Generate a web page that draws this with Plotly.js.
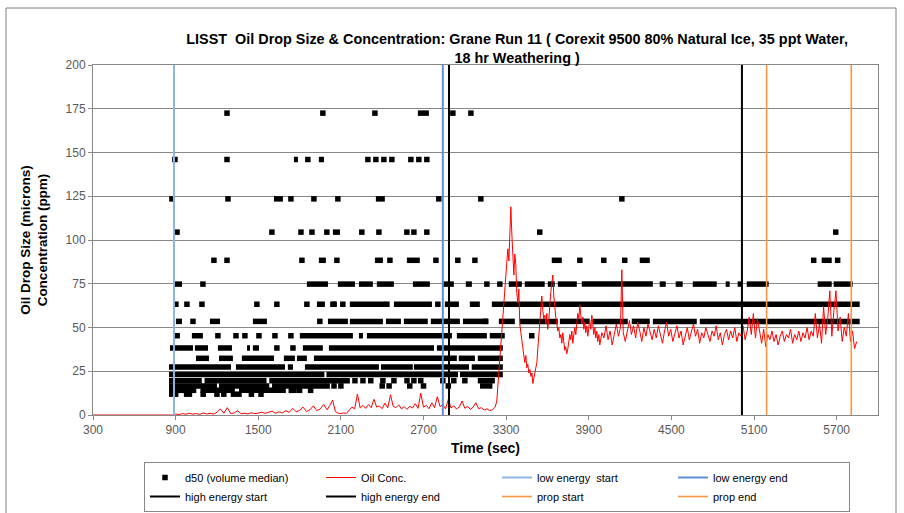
<!DOCTYPE html>
<html>
<head>
<meta charset="utf-8">
<script src="https://cdn.plot.ly/plotly-3.0.1.min.js"></script>
<style>html,body{margin:0;padding:0;background:#fff;}#chart{width:904px;height:513px;}</style>
</head>
<body>
<div id="chart"></div>
<script>
// ---------- data ----------
const xTicks = [300, 900, 1500, 2100, 2700, 3300, 3900, 4500, 5100, 5700];
const yTicks = [0, 25, 50, 75, 100, 125, 150, 175, 200];

// d50 isolated readings: [time (s), d50 (microns)]
const d50Points = [
  [1273,172.5],[1969,172.5],[2347,172.5],[2913,172.5],[3044,172.5],
  [895,146],[1273,146],[1860,146],[2296,146],[2354,146],[2412,146],[2470,146],[2608,146],[2666,146],[2724,146],
  [873,123.5],[1280,123.5],[1737,123.5],[1904,123.5],[2078,123.5],[2811,123.5],[3116,123.5],[4140,123.5],
  [910,104.5],[1599,104.5],[1810,104.5],[1890,104.5],[1998,104.5],[2252,104.5],[2376,104.5],[2579,104.5],[2630,104.5],[2724,104.5],[3544,104.5],[5693,104.5],
  [1178,88.4],[1273,88.4],[1817,88.4],[2071,88.4],[2456,88.4],[2790,88.4],[2949,88.4],[3073,88.4],[3835,88.4],[4009,88.4],[4161,88.4],[5533,88.4],[5707,88.4],
  [1098,74.8],[3160,74.8],[3254,74.8],
  [902,63.3],[982,63.3],[1091,63.3],[1490,63.3],[1635,63.3],[1853,63.3],[2042,63.3],[2114,63.3],[2434,63.3],[2804,63.3],
  [1026,53.5],[1947,53.5],[3152,53.5],
  [1207,45.3],[1338,45.3],[1403,45.3],[1505,45.3],[1621,45.3],[1737,45.3],[3486,45.3],
  [1635,38.3],[1752,38.3],
  [2202,19.6],[2260,19.6],[2317,19.6],[2405,19.6],[2485,19.6],[2580,19.6],[2630,19.6],[2680,19.6],[2840,19.6],[2920,19.6],[3000,19.6],
  [2050,16.6],[2100,16.6],[2400,16.6],[2450,16.6],[2600,16.6],[2700,16.6],[2880,16.6],
  [1800,14.1],[1880,14.1],
  [1100,11.9],[1200,11.9],[1250,11.9],[1450,11.9],[1520,11.9]
];

// d50 dense runs of consecutive readings: [d50 (microns), first time, last time]
const d50Runs = [
  [172.5,2659,2739],
  [146,1759,1788],[146,1940,1977],
  [123.5,1614,1679],[123.5,2354,2419],
  [104.5,2042,2093],
  [88.4,1940,1991],[88.4,2347,2405],[88.4,2579,2673],[88.4,3631,3704],[88.4,4270,4343],[88.4,5591,5664],
  [74.8,881,946],[74.8,1853,2006],[74.8,2078,2202],[74.8,2231,2332],[74.8,2361,2485],[74.8,2623,2746],[74.8,2840,2920],
  [74.8,3007,3051],[74.8,3319,3414],[74.8,3435,3580],[74.8,3602,3653],[74.8,3675,3813],[74.8,3849,4365],[74.8,4415,4459],
  [74.8,4531,4582],[74.8,4655,4829],[74.8,4894,4923],[74.8,4981,5010],[74.8,5047,5206],[74.8,5562,5664],[74.8,5678,5816],
  [63.3,1926,1984],[63.3,2035,2071],[63.3,2165,2419],[63.3,2485,2761],[63.3,2855,2957],[63.3,3036,3109],[63.3,3196,5867],
  [53.5,902,946],[53.5,1149,1222],[53.5,1461,1563],[53.5,2006,2151],[53.5,2165,2405],[53.5,2427,2536],[53.5,2557,2731],
  [53.5,2753,2964],[53.5,2986,3167],[53.5,3247,3363],[53.5,3399,3675],[53.5,3690,3907],[53.5,3929,4183],[53.5,4212,4343],
  [53.5,4365,4684],[53.5,4706,5867],
  [45.3,888,931],[45.3,1018,1098],[45.3,1802,2187],[45.3,2231,2260],[45.3,2289,2906],[45.3,2942,3160],[45.3,3181,3290],
  [38.3,859,1026],[38.3,1040,1135],[38.3,1207,1309],[38.3,1418,1440],[38.3,1461,1505],[38.3,1824,1969],[38.3,2013,2776],[38.3,2797,3276],
  [32.4,1048,1142],[32.4,1215,1316],[32.4,1381,1614],[32.4,1686,1766],[32.4,1781,1853],[32.4,1904,2942],[32.4,2956,3073],[32.4,3094,3276],
  [27.4,852,1302],[27.4,1338,1694],[27.4,1715,1752],[27.4,1839,2376],[27.4,2391,2622],[27.4,2630,3030],[27.4,3050,3276],
  [23.2,852,1980],[23.2,1995,2950],[23.2,2965,3276],
  [19.6,852,1090],[19.6,1110,1560],[19.6,1580,2165],[19.6,3094,3218],
  [16.6,852,1200],[16.6,1215,1580],[16.6,1600,2020],[16.6,3110,3200],
  [14.1,852,1050],[14.1,1080,1330],[14.1,1360,1700],[14.1,1720,1780],
  [11.9,852,920],[11.9,960,1020],[11.9,1300,1380]
];

// oil concentration: [time (s), ppm]
const oilConc = [
  [300,0],[880,0],
  [900,0.5],[925,0.3],[950,0.8],[975,0.4],[1000,1.0],[1025,0.5],[1050,0.8],[1075,0.3],[1100,1.2],[1125,0.6],
  [1150,0.9],[1175,0.5],[1200,1.5],[1225,3.5],[1250,1.0],[1275,4.2],[1300,0.8],[1325,1.2],[1350,2.5],[1375,0.7],
  [1400,1.0],[1425,0.6],[1450,1.3],[1475,0.8],[1500,1.1],[1525,1.6],[1550,0.9],[1575,1.4],[1600,2.2],[1625,1.0],
  [1650,1.8],[1675,1.2],[1700,2.5],[1725,1.5],[1750,3.8],[1775,1.8],[1800,2.6],[1825,4.5],[1850,2.0],[1875,3.0],
  [1900,5.2],[1925,2.5],[1950,3.5],[1975,6.0],[2000,3.0],
  [2020,5.5],[2040,8.5],[2060,2.0],[2080,1.0],[2100,0.8],[2120,1.2],[2140,0.9],[2160,2.5],[2180,4.5],[2200,3.5],
  [2220,12.0],[2240,4.0],[2260,5.5],[2280,3.8],[2300,6.0],[2320,4.2],[2340,9.0],[2360,4.5],[2380,5.2],[2400,3.6],
  [2420,6.8],[2440,4.0],[2460,11.5],[2480,5.0],[2500,4.2],[2520,5.8],[2540,3.5],[2560,4.8],[2580,3.2],[2600,5.0],
  [2620,4.0],[2640,6.5],[2660,3.8],[2680,12.5],[2700,4.5],[2720,5.5],[2740,3.6],[2760,7.0],[2780,4.2],[2800,10.5],
  [2820,4.8],[2840,6.0],[2860,3.5],[2880,9.0],[2900,4.0],[2920,5.2],[2940,3.4],[2960,4.6],[2980,8.0],[3000,3.8],
  [3020,5.0],[3040,3.2],[3060,4.5],[3080,7.0],[3100,3.6],[3120,4.2],[3140,2.8],[3160,3.6],[3180,2.5],[3200,3.0],[3220,4.5],
  [3232,8],[3247,25],[3260,40],[3269,52],[3280,62],[3290,75],[3300,83],[3312,95],[3320,88],[3327,110],[3334,119],
  [3341,104],[3348,95],[3356,80],[3363,92],[3370,86],[3377,70],[3385,64],[3392,72],[3399,52],[3407,47],[3414,43],
  [3421,38],[3428,33],[3435,30],[3443,34],[3450,27],[3457,29],[3465,24],[3472,26],[3480,22],[3487,24],[3494,18],
  [3501,21],[3508,24],[3515,28],[3523,30],[3530,38],[3537,45],[3544,55],[3552,62],[3559,68],[3566,60],[3573,55],
  [3581,57],[3588,52],[3595,58],[3602,49],[3610,55],[3617,64],[3624,70],[3631,75],[3639,80],[3646,68],[3653,60],
  [3660,56],[3668,52],[3675,48],[3682,50],[3690,44],[3697,46],[3704,41],[3711,47],[3719,40],[3726,37],[3733,39],
  [3740,35],[3748,38],[3755,42],[3762,46],[3769,43],[3777,48],[3784,41],[3791,47],[3798,50],[3806,46],[3813,54],
  [3820,58],[3828,55],[3835,63],[3842,57],[3849,52],[3857,56],[3864,49],[3871,53],[3878,47],[3886,51],[3893,45],
  [3900,50],[3907,54],[3915,49],[3922,57],[3929,52],[3936,46],[3944,50],[3951,44],[3958,48],[3965,42],[3973,46],[3980,40],
  [3995,47],[4010,44],[4025,51],[4040,43],[4055,48],[4070,40],[4085,46],[4100,52],[4115,45],[4130,50],[4140,83],
  [4150,47],[4165,42],[4180,49],[4195,54],[4210,46],[4225,51],[4240,44],[4255,53],[4270,48],[4285,42],[4300,50],
  [4315,45],[4330,52],[4345,47],[4360,43],[4375,49],[4390,44],[4405,51],[4420,46],[4435,41],[4450,48],[4465,53],
  [4480,45],[4495,49],[4510,42],[4525,47],[4540,51],[4555,44],[4570,48],[4585,40],[4600,46],[4615,50],[4630,43],
  [4645,48],[4660,52],[4675,45],[4690,49],[4705,41],[4720,47],[4735,44],[4750,50],[4765,46],[4780,42],[4795,48],
  [4810,45],[4825,51],[4840,43],[4855,47],[4870,40],[4885,46],[4900,49],[4915,43],[4930,48],[4945,44],[4960,50],
  [4975,42],[4990,47],[5005,45],[5020,51],[5035,43],[5050,48],[5065,56],[5080,46],[5095,58],[5110,44],[5125,55],
  [5140,47],[5155,41],[5170,49],[5185,39],[5200,46],[5215,43],[5230,48],[5245,42],[5260,46],[5275,40],[5290,45],
  [5305,48],[5320,42],[5335,46],[5350,44],[5365,49],[5380,41],[5395,46],[5410,43],[5425,48],[5440,42],[5455,47],
  [5470,44],[5485,50],[5500,43],[5515,48],[5530,45],[5545,58],[5560,44],[5575,52],[5590,41],[5605,62],[5620,46],
  [5635,55],[5650,71],[5665,45],[5680,60],[5695,71],[5710,48],[5725,56],[5740,42],[5755,50],[5770,45],[5785,58],
  [5800,42],[5815,48],[5830,38],[5845,42]
];

// phase markers (vertical lines)
const eventNames = ['low energy  start', 'low energy end', 'high energy start', 'high energy end', 'prop start', 'prop end'];
const eventTimes = [888, 2840, 2885, 5012, 5191, 5806];
const eventColors = ['#8DB4E2', '#5A8FD6', '#000000', '#000000', '#F79646', '#F79646'];
const eventWidths = [2, 2, 2, 2, 1.6, 1.6];
const yRange = [0, 200];

// ---------- traces ----------
const runX = [], runY = [];
d50Runs.forEach(r => { runX.push(r[1], r[2], null); runY.push(r[0], r[0], null); });

const traces = [];
traces.push({
  x: runX, y: runY, type: 'scatter', mode: 'lines', showlegend: false, hoverinfo: 'skip',
  line: {color: '#000', width: 5.5}, connectgaps: false
});
traces.push({
  x: d50Points.map(p => p[0]), y: d50Points.map(p => p[1]), type: 'scatter', mode: 'markers',
  name: 'd50 (volume median)', marker: {symbol: 'square', size: 5.5, color: '#000'}
});
traces.push({
  x: oilConc.map(p => p[0]), y: oilConc.map(p => p[1]), type: 'scatter', mode: 'lines',
  name: 'Oil Conc.', line: {color: '#FF0000', width: 1}
});
eventNames.forEach((n, i) => {
  traces.push({
    x: [eventTimes[i], eventTimes[i]], y: yRange, type: 'scatter', mode: 'lines', name: n,
    line: {color: eventColors[i], width: eventWidths[i]}
  });
});

const gridC = '#888888';
const layout = {
  width: 904, height: 513,
  margin: {l: 93, r: 26, t: 65, b: 98},
  paper_bgcolor: '#fff', plot_bgcolor: '#fff',
  font: {family: '"Liberation Sans", Arial, sans-serif', size: 11, color: '#000'},
  title: {
    text: '<b>LISST  Oil Drop Size &amp; Concentration: Grane Run 11 ( Corexit 9500 80% Natural Ice, 35 ppt Water,<br>18 hr Weathering )</b>',
    font: {size: 14.4, color: '#000'},
    x: 0.572, xref: 'container', xanchor: 'center',
    y: 0.914, yref: 'container', yanchor: 'top'
  },
  xaxis: {
    range: [300, 6000], tickmode: 'array', tickvals: xTicks, ticktext: xTicks.map(String),
    ticks: 'outside', ticklen: 4, tickcolor: gridC, showline: true, linecolor: gridC, linewidth: 1, mirror: true,
    showgrid: false, zeroline: false, tickfont: {size: 12, color: '#595959'},
    title: {text: '<b>Time (sec)</b>', font: {size: 14, color: '#000'}, standoff: 6}
  },
  yaxis: {
    range: yRange, tickmode: 'array', tickvals: yTicks, ticktext: yTicks.map(String),
    ticks: 'outside', ticklen: 4, tickcolor: gridC, showline: true, linecolor: gridC, linewidth: 1, mirror: true,
    showgrid: true, gridcolor: gridC, gridwidth: 1, zeroline: false, tickfont: {size: 12, color: '#595959'},
    title: {text: '<b>Oil Drop Size (microns)<br>Concentration (ppm)</b>', font: {size: 13.5, color: '#000'}, standoff: 14}
  },
  legend: {
    orientation: 'h', xref: 'container', yref: 'container',
    x: 144 / 904, y: 1 - 462 / 513, xanchor: 'left', yanchor: 'top',
    bordercolor: '#888888', borderwidth: 1, bgcolor: '#fff',
    entrywidth: 131, entrywidthmode: 'pixels', itemwidth: 30,
    font: {size: 11, color: '#000'}, traceorder: 'normal'
  },
  shapes: [{
    type: 'rect', xref: 'paper', yref: 'paper',
    x0: (6 - 93) / 785, x1: (896 - 93) / 785, y0: (415 - 530) / 350, y1: (415 - 8) / 350,
    line: {color: '#7F7F7F', width: 1}, fillcolor: 'rgba(0,0,0,0)', layer: 'below'
  }],
  showlegend: true
};

Plotly.newPlot('chart', traces, layout, {displayModeBar: false, staticPlot: true});
</script>
</body>
</html>
